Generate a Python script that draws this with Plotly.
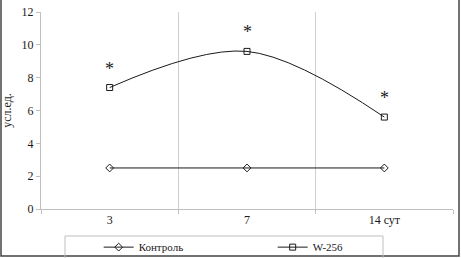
import plotly.graph_objects as go

categories = ["3", "7", "14 сут"]
control = [2.5, 2.5, 2.5]
w256 = [7.4, 9.6, 5.6]
significant = [True, True, True]
y_ticks = [0, 2, 4, 6, 8, 10, 12]

FONT = "Liberation Serif"

fig = go.Figure()
fig.add_trace(go.Scatter(
    x=categories, y=control, name="Контроль", mode="lines+markers",
    line=dict(color="#1a1a1a", width=1),
    marker=dict(symbol="diamond-open", size=6, color="#1a1a1a", line=dict(width=1)),
))
fig.add_trace(go.Scatter(
    x=categories, y=w256, name="W-256", mode="lines+markers",
    line=dict(color="#1a1a1a", width=1, shape="spline", smoothing=1.0),
    marker=dict(symbol="square-open", size=6, color="#1a1a1a", line=dict(width=1)),
))

for i, (v, s) in enumerate(zip(w256, significant)):
    if s:
        fig.add_annotation(x=i, y=v, xref="x", yref="y", text="*", showarrow=False,
                           yshift=19,
                           font=dict(family=FONT, size=18, color="#1a1a1a"))

fig.update_layout(
    width=461, height=258,
    margin=dict(l=41, r=8, t=12, b=49, autoexpand=False),
    paper_bgcolor="white", plot_bgcolor="white",
    font=dict(family=FONT, size=12, color="#1a1a1a"),
    showlegend=True,
    legend=dict(orientation="h", x=0.14, y=-0.12, xanchor="left", yanchor="top",
                font=dict(family=FONT, size=11, color="#1a1a1a"),
                entrywidth=129, entrywidthmode="pixels", itemwidth=30,
                borderwidth=0, bgcolor="rgba(0,0,0,0)"),
    xaxis=dict(type="category", range=[-0.5, 2.5], tickson="boundaries",
               showgrid=True, gridcolor="#cfcfcf", gridwidth=1,
               showline=True, linecolor="#bfbfbf", ticks="outside",
               tickcolor="#bfbfbf", ticklen=4, zeroline=False,
               tickfont=dict(family=FONT, size=12)),
    yaxis=dict(range=[0, 12], tickvals=y_ticks, showgrid=False, zeroline=False,
               showline=True, linecolor="#bfbfbf", ticks="outside",
               tickcolor="#bfbfbf", ticklen=4,
               tickfont=dict(family=FONT, size=12),
               title=dict(text="усл.ед.", font=dict(family=FONT, size=12), standoff=8)),
    shapes=[
        dict(type="rect", xref="paper", yref="paper",
             x0=-40/412, x1=418/412, y0=-47/197, y1=211/197,
             line=dict(color="#444444", width=1.5), fillcolor="rgba(0,0,0,0)"),
        dict(type="rect", xref="paper", yref="paper",
             x0=24/412, x1=342/412, y0=-60/197, y1=-27/197,
             line=dict(color="#bfbfbf", width=1), fillcolor="rgba(0,0,0,0)"),
    ],
)

fig.write_html("out.html", config={"displayModeBar": False},
               post_script="document.body.style.margin='0';document.body.style.overflow='hidden';")
